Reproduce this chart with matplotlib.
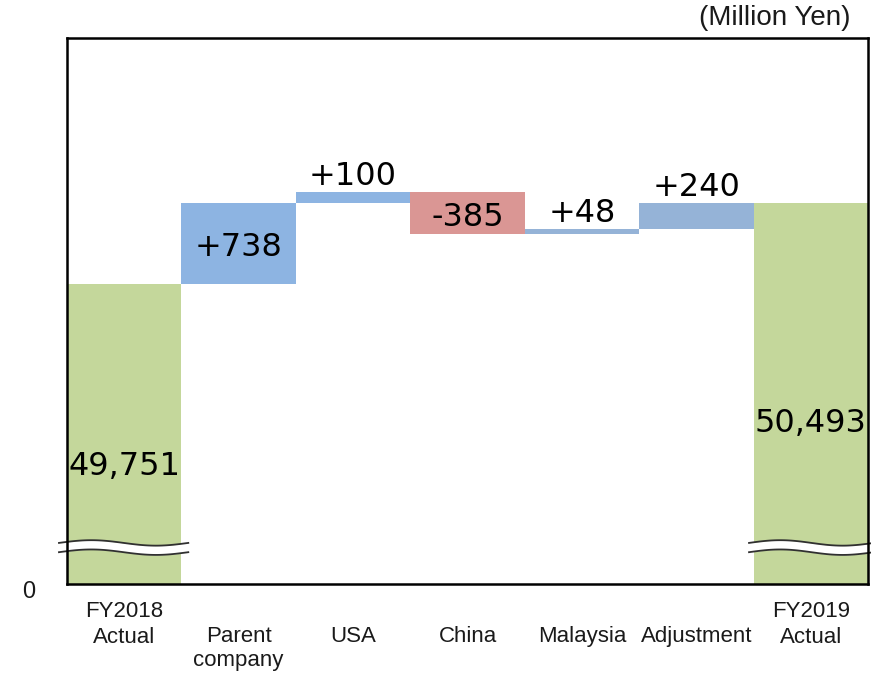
import numpy as np
import matplotlib.pyplot as plt
import matplotlib.transforms as mtransforms

# sales bridge FY2018 -> FY2019 (million yen)
categories = ["FY2018\nActual", "Parent\ncompany", "USA", "China", "Malaysia", "Adjustment", "FY2019\nActual"]
start_total = 49751
changes = [738, 100, -385, 48, 240]
end_total = 50493
change_labels = ["+738", "+100", "-385", "+48", "+240"]
total_labels = ["49,751", "50,493"]

GREEN = "#C4D79B"
STEP_COLORS = ["#8DB4E2", "#8DB4E2", "#DA9694", "#95B3D7", "#95B3D7"]

# axis is cut: the bottom edge stands for 0 but the scale starts at 47,000
YMIN, YMAX = 47000, 52000

fig = plt.figure(figsize=(8.71, 6.73), dpi=100)
ax = fig.add_axes([0.0769, 0.1322, 0.9197, 0.8113])
ax.set_xlim(-0.5, 6.5)
ax.set_ylim(YMIN, YMAX)

# totals
ax.bar(0, start_total - YMIN, bottom=YMIN, width=1.0, color=GREEN, linewidth=0)
ax.bar(6, end_total - YMIN, bottom=YMIN, width=1.0, color=GREEN, linewidth=0)

# floating steps
level = start_total
spans = []
for i, d in enumerate(changes):
    lo = min(level, level + d)
    ax.bar(i + 1, abs(d), bottom=lo, width=1.0, color=STEP_COLORS[i], linewidth=0)
    spans.append((lo, lo + abs(d)))
    level += d

num_font = dict(family="DejaVu Sans", fontsize=23, color="black")
ax.text(0, YMIN + 0.222 * (YMAX - YMIN), total_labels[0], ha="center",
        va="center_baseline", **num_font)
ax.text(6, YMIN + 0.300 * (YMAX - YMIN), total_labels[1], ha="center",
        va="center_baseline", **num_font)

# label inside the bar when it is tall enough, otherwise above it
for i, (lo, hi) in enumerate(spans):
    if hi - lo > 300:
        ax.text(i + 1, (lo + hi) / 2 - 5, change_labels[i], ha="center",
                va="center_baseline", **num_font)
    else:
        ax.text(i + 1, hi + 65, change_labels[i], ha="center", va="baseline", **num_font)

# break marks across the two total bars
tr = mtransforms.blended_transform_factory(ax.transData, ax.transAxes)
yc, gap, amp = 0.0668, 0.0085, 0.005
for x0, x1 in [(-0.57, 0.56), (5.46, 6.55)]:
    xs = np.linspace(x0, x1, 60)
    wave = amp * np.sin((xs - x0) / (x1 - x0) * 2 * np.pi)
    ax.fill_between(xs, yc - gap + wave, yc + gap + wave, color="white",
                    transform=tr, clip_on=False, zorder=5, linewidth=0)
    ax.plot(xs, yc - gap + wave, color="#303030", lw=1.3, transform=tr, clip_on=False, zorder=6)
    ax.plot(xs, yc + gap + wave, color="#303030", lw=1.3, transform=tr, clip_on=False, zorder=6)

for s in ax.spines.values():
    s.set_color("black")
    s.set_linewidth(1.8)
    s.set_zorder(7)
ax.set_xticks([])
ax.set_yticks([])

# category labels under the axis
lab_font = dict(family="Liberation Sans", fontsize=16, color="#1a1a1a")
label_y = [-0.074, -0.118, -0.097, -0.097, -0.097, -0.097, -0.074]
spacing = [1.3, 1.15, 1.3, 1.3, 1.3, 1.3, 1.3]
for i, name in enumerate(categories):
    ax.text(i, label_y[i], name, ha="center", va="center", transform=tr,
            linespacing=spacing[i], **lab_font)

ax.text(-0.04, -0.015, "0", ha="right", va="center", transform=ax.transAxes,
        family="Liberation Sans", fontsize=17, color="#1a1a1a")
fig.text(0.977, 0.973, "(Million Yen)", ha="right", va="center",
         family="Liberation Sans", fontsize=20, color="#1a1a1a")

fig.savefig("out.png", dpi=100, facecolor="white")
